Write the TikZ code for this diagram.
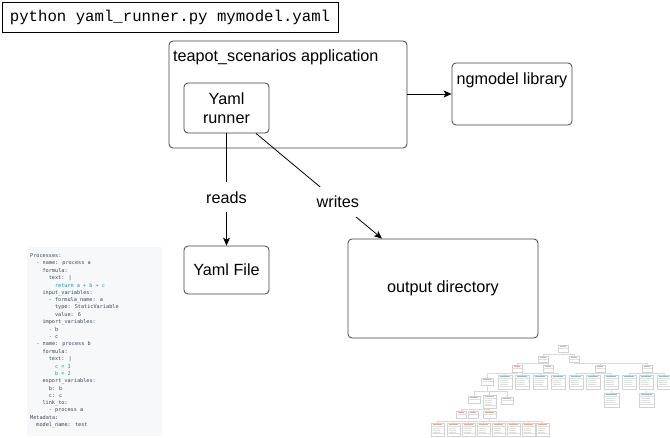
\documentclass[tikz,border=0pt]{standalone}
\usepackage{fontspec}
\setmainfont{Liberation Sans}
\newfontfamily\cmdfont{Liberation Mono}
\newfontfamily\codefont{DejaVu Sans Mono}
\usepackage{xcolor}
\usetikzlibrary{arrows.meta,positioning}
\definecolor{codebg}{RGB}{246,248,250}
\definecolor{codefg}{RGB}{60,70,85}
\definecolor{codeteal}{RGB}{30,150,150}
\definecolor{treeor}{RGB}{238,170,140}
\definecolor{treeteal}{RGB}{140,190,200}

\begin{document}
\begin{tikzpicture}[x=1pt,y=-1pt,
        box/.style={draw=black!75, line width=0.8pt, rounded corners=4pt, inner sep=0pt},
        txt/.style={font=\fontsize{16.2}{18.5}\selectfont, align=center, inner sep=0pt},
        lbl/.style={font=\fontsize{16.2}{18.5}\selectfont, fill=white, inner xsep=1pt, inner ysep=9pt},
        arr/.style={draw=black, line width=0.8pt, -{Stealth[length=8pt,width=7pt,inset=2pt]}},
        codeline/.style={anchor=west, inner sep=0pt, font=\codefont\fontsize{5.2}{6}\selectfont},
        treebox/.style={draw=gray!35, line width=0.35pt, fill=white},
        treeline/.style={draw=gray!30, line width=0.35pt}]
        \useasboundingbox (0,0) rectangle (670,437);
        \newcommand\tbox[5]{\draw[treebox] (#1,#2) rectangle (#3,#4);
          \draw[#5, line width=0.6pt] ({#1+2},{#2+1.7}) -- ({#3-2},{#2+1.7});
          \draw[gray!25, line width=0.3pt] (#1,{#2+3.4}) -- (#3,{#2+3.4});}
        \newcommand\tboxt[5]{\tbox{#1}{#2}{#3}{#4}{#5}
          \foreach \k in {5.5,7.5,9.5}
            \draw[gray!25, line width=0.5pt] ({#1+1.5},{#2+\k}) -- ({#1+0.7*(#3-#1)},{#2+\k});
          \draw[gray!25, line width=0.3pt] (#1,{#4-2.5}) -- (#3,{#4-2.5});}
        \newcommand\tlink[5]{\draw[treeline] (#1,#2) -- (#1,#3) -| (#4,#5);}

        \node[draw=black, line width=1pt, minimum width=336pt, minimum height=30pt, inner sep=0pt,
              font=\cmdfont\fontsize{15.7}{18}\selectfont] (cmd) at (170,17) {python yaml\_runner.py mymodel.yaml};

        \node[box, minimum width=238pt, minimum height=107pt] (app) at (288,94.5) {};
        \node[txt, anchor=base west] (apptitle) at (173,61) {teapot\_scenarios application};
        \node[box, txt, minimum width=85pt, minimum height=50pt] (runner) at (226.5,108) {Yaml\\runner};
        \node[box, minimum width=120pt, minimum height=62pt] (ngm) at (512,94) {};
        \node[txt, anchor=base] (ngmtitle) at (512,84) {ngmodel library};
        \node[box, txt, minimum width=85pt, minimum height=48pt] (yamlfile) at (226.5,270) {Yaml File};
        \node[box, txt, minimum width=190pt, minimum height=99pt] (outdir) at (443,288.5) {output directory};

        \draw[arr] (app.east |- ngm.west) -- (ngm.west);
        \draw[arr] (runner.south) -- node[lbl, pos=0.57] (reads) {reads} (yamlfile.north);
        \draw[arr] ([xshift=29.5pt]runner.south) -- node[lbl, pos=0.65] (writes) {writes} ([xshift=-61pt]outdir.north);

        \fill[codebg] (27,247) rectangle (162,436);
        \foreach \ind/\txt/\col [count=\i from 0] in {0/Processes:/codefg, 1/- name: process a/codefg,
            2/formula:/codefg, 3/text: |/codefg, 4/return a + b + c/codeteal, 2/input\_variables:/codefg,
            3/- formula\_name: a/codefg, 4/type: StaticVariable/codefg, 4/value: 6/codefg,
            2/import\_variables:/codefg, 3/- b/codefg, 3/- c/codefg, 1/- name: process b/codefg,
            2/formula:/codefg, 3/text: |/codefg, 4/c = 3/codeteal, 4/b = 2/codeteal,
            2/export\_variables:/codefg, 3/b: b/codefg, 3/c: c/codefg, 2/link\_to:/codefg,
            3/- process a/codefg, 0/Metadata:/codefg, 1/model\_name: test/codefg}
          \node[codeline, text=\col] (code\i) at ({30+6.2*\ind},{256+7.36*\i}) {\txt};

        \tlink{563}{352}{354}{543}{356}
        \tlink{563}{352}{354}{574}{356}
        \tlink{543}{362}{363.5}{517}{365}
        \tlink{543}{362}{363.5}{548}{365}
        \tlink{574}{362}{363.5}{600}{365}
        \tlink{574}{362}{363.5}{647}{365}
        \tlink{517}{372}{373.5}{487}{378}
        \tlink{517}{372}{373.5}{505}{375}
        \foreach \xa in {522,540,558} \tlink{548}{372}{373.5}{\xa}{375};
        \foreach \xa in {576,593,611} \tlink{600}{372}{373.5}{\xa}{375};
        \foreach \xa in {629,646,664} \tlink{647}{372}{373.5}{\xa}{375};
        \tlink{611}{389}{391}{611}{393}
        \tlink{646}{389}{391}{646}{393}
        \foreach \xa/\ya in {474/396, 489.5/395, 507/397} \tlink{487}{385}{391}{\xa}{\ya};
        \foreach \xa in {461,473,489.5} \tlink{489.5}{408}{409.5}{\xa}{411};
        \foreach \xa in {437.5,453.5,468.5,483.5,498.5,513.5,528.5,542.5} \tlink{489.5}{418}{421}{\xa}{423};

        \tbox{558}{345}{568}{352}{gray!50}
        \tbox{538}{356}{548}{362}{treeor}
        \tbox{569}{356}{579}{362}{gray!50}
        \tbox{512}{365}{522}{372}{treeor}
        \tbox{543}{365}{553}{372}{gray!50}
        \tbox{595}{365}{605}{372}{gray!50}
        \tbox{642}{365}{652}{372}{gray!50}
        \tbox{481}{378}{493}{385}{treeor}
        \foreach \xa in {498,515,533,551,569,586,604,622,639,657} \tboxt{\xa}{375}{\xa+14}{389}{treeteal};
        \tboxt{604}{393}{619}{407}{treeteal}
        \tboxt{639}{393}{654}{407}{treeteal}
        \tbox{468}{396}{480}{403}{treeor}
        \tboxt{483}{395}{496}{408}{gray!50}
        \tbox{501}{397}{513}{404}{gray!50}
        \tbox{456}{411}{466}{418}{treeor}
        \tbox{468}{411}{478}{418}{treeor}
        \tbox{483}{411}{496}{418}{treeor}
        \foreach \xa in {431,447,462,477,492,507,522,536} \tboxt{\xa}{423}{\xa+13}{436}{treeor};
        \end{tikzpicture}
\end{document}
